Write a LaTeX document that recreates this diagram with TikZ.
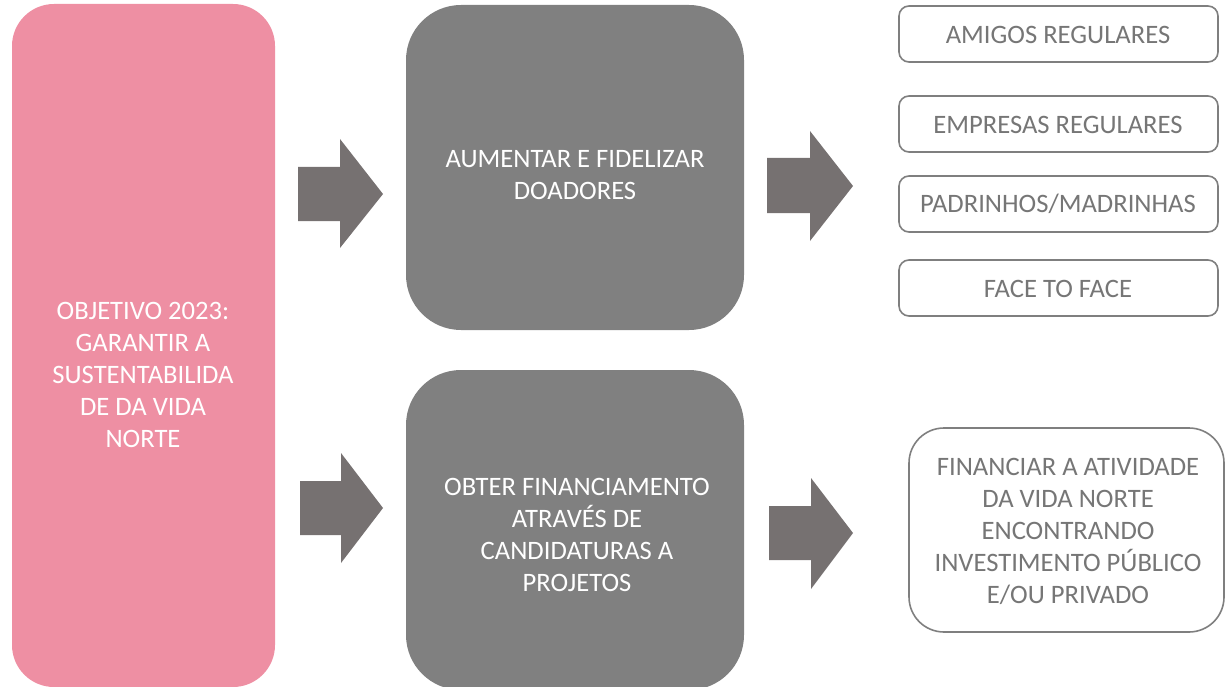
\documentclass[tikz,border=0pt]{standalone}
\usepackage{fontspec}
\setmainfont{Carlito}
\definecolor{pinkbox}{HTML}{EE8FA3}
\definecolor{greybox}{HTML}{808080}
\definecolor{arrowgrey}{HTML}{767171}
\definecolor{framegrey}{HTML}{7F7F7F}
\definecolor{textgrey}{HTML}{767676}
\tikzset{
  txt/.style={font=\fontsize{26.6}{32}\selectfont, align=center, inner sep=0pt},
  whitetxt/.style={txt, text=white},
  greytxt/.style={txt, text=textgrey},
  bigbox/.style={fill=greybox, draw=none, rounded corners=55pt},
  framebox/.style={draw=framegrey, line width=1.6pt, fill=white, rounded corners=10pt},
  blockarrow/.style={fill=arrowgrey, draw=none}
}
\begin{document}
\begin{tikzpicture}[x=1pt,y=-1pt]
\useasboundingbox (0,0) rectangle (1225,687);
% left pink box
\fill[pinkbox, rounded corners=42pt] (12,4) rectangle (275,687);
\node[whitetxt] (goal) at (143,375) {OBJETIVO 2023:\\GARANTIR A\\SUSTENTABILIDA\\DE DA VIDA\\NORTE};
% grey boxes
\fill[bigbox] (406,5) rectangle (744,330);
\node[whitetxt] (aum) at (575,175) {AUMENTAR E FIDELIZAR\\DOADORES};
\fill[bigbox] (406,370) rectangle (744,690);
\node[whitetxt] (obt) at (577,535) {OBTER FINANCIAMENTO\\ATRAVÉS DE\\CANDIDATURAS A\\PROJETOS};
% block arrows
\fill[blockarrow] (298,167) -- (340,167) -- (340,139) -- (383,194) -- (340,248) -- (340,221) -- (298,221) -- cycle;
\fill[blockarrow] (767,158) -- (810,158) -- (810,131) -- (853,186) -- (810,241) -- (810,213) -- (767,213) -- cycle;
\fill[blockarrow] (300,481) -- (341,481) -- (341,453) -- (383,508) -- (341,563) -- (341,535) -- (300,535) -- cycle;
\fill[blockarrow] (769,506) -- (811,506) -- (811,478) -- (853,533) -- (811,589) -- (811,560) -- (769,560) -- cycle;
% right boxes
\draw[framebox] (899,6) rectangle (1218,62);
\node[greytxt] (amigos) at (1058,35) {AMIGOS REGULARES};
\draw[framebox] (899,96) rectangle (1218,152);
\node[greytxt] (empresas) at (1058,125) {EMPRESAS REGULARES};
\draw[framebox] (899,176) rectangle (1218,232);
\node[greytxt] (padrinhos) at (1058,204) {PADRINHOS/MADRINHAS};
\draw[framebox] (899,260) rectangle (1218,316);
\node[greytxt] (face) at (1058,289) {FACE TO FACE};
\draw[framebox, rounded corners=35pt] (909,428) rectangle (1224,632);
\node[greytxt] (fin) at (1068,531) {FINANCIAR A ATIVIDADE\\DA VIDA NORTE\\ENCONTRANDO\\INVESTIMENTO PÚBLICO\\E/OU PRIVADO};
\end{tikzpicture}
\end{document}
